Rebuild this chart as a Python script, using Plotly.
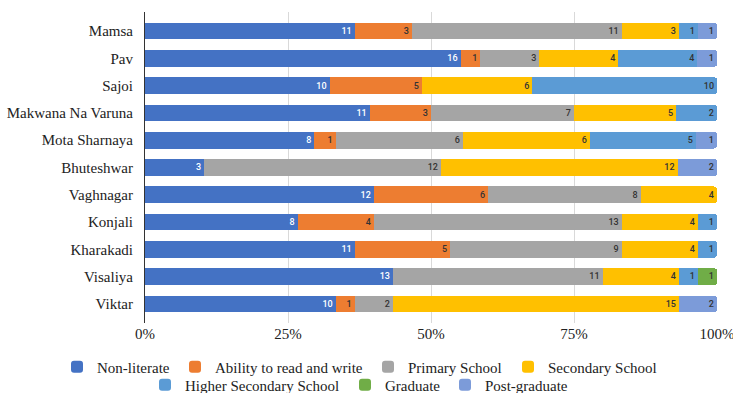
import plotly.graph_objects as go

villages = ["Mamsa", "Pav", "Sajoi", "Makwana Na Varuna", "Mota Sharnaya", "Bhuteshwar",
            "Vaghnagar", "Konjali", "Kharakadi", "Visaliya", "Viktar"]

non_literate = [11, 16, 10, 11, 8, 3, 12, 8, 11, 13, 10]
read_write = [3, 1, 5, 3, 1, 0, 6, 4, 5, 0, 1]
primary = [11, 3, 0, 7, 6, 12, 8, 13, 9, 11, 2]
secondary = [3, 4, 6, 5, 6, 12, 4, 4, 4, 4, 15]
higher_secondary = [1, 4, 10, 2, 5, 0, 0, 1, 1, 1, 0]
graduate = [0, 0, 0, 0, 0, 0, 0, 0, 0, 1, 0]
post_graduate = [1, 1, 0, 0, 1, 2, 0, 0, 0, 0, 2]

series_names = ["Non-literate", "Ability to read and write", "Primary School",
                "Secondary School", "Higher Secondary School", "Graduate", "Post-graduate"]
series_values = [non_literate, read_write, primary, secondary,
                 higher_secondary, graduate, post_graduate]
series_colors = ["#4472C4", "#ED7D31", "#A5A5A5", "#FFC000", "#5B9BD5", "#70AD47", "#7C9BD9"]
text_colors = ["white", "#333333", "#333333", "#333333", "#333333", "#333333", "#333333"]

# legend layout: (left x of legend text in px, row centre y in px)
legend_pos = [(97, 367), (215, 367), (408, 367), (548, 367),
              (185, 385), (385, 385), (485, 385)]

SERIF = "Liberation Serif, Times New Roman, Times, serif"
W, H = 733, 393

fig = go.Figure()
layout_legends = {}
for i, (name, vals, color, tcolor) in enumerate(zip(series_names, series_values,
                                                    series_colors, text_colors)):
    leg = "legend" if i == 0 else f"legend{i + 1}"
    fig.add_trace(go.Bar(
        y=villages, x=vals, name=name, orientation="h", legend=leg,
        showlegend=True,
        marker=dict(color=color, line=dict(width=0)),
        text=[str(v) if v else "" for v in vals],
        textposition="inside", insidetextanchor="end",
        textangle=0,
        textfont=dict(family="Roboto", size=11, color=tcolor, weight=500),
        hoverinfo="skip",
    ))
    tx, ty = legend_pos[i]
    layout_legends[leg] = dict(
        orientation="h", xref="container", yref="container",
        x=(tx - 40) / W, xanchor="left", y=1 - ty / H, yanchor="middle",
        font=dict(family=SERIF, size=15, color="#222222"),
        itemclick=False, bgcolor="rgba(0,0,0,0)", borderwidth=0,
    )

fig.update_layout(
    showlegend=True,
    barmode="stack", barnorm="percent", bargap=0.39,
    width=W, height=H,
    margin=dict(l=145, r=16, t=12, b=70, autoexpand=False),
    plot_bgcolor="white", paper_bgcolor="white",
    font=dict(family=SERIF, size=15, color="#222222"),
    uniformtext=dict(minsize=8, mode="show"),
    barcornerradius=3,
    **layout_legends,
)
fig.update_xaxes(range=[0, 100], tickvals=[0, 25, 50, 75, 100],
                 ticktext=["0%", "25%", "50%", "75%", "100%"],
                 showgrid=True, gridcolor="#D9D9D9", gridwidth=1, zeroline=False,
                 ticks="", fixedrange=True, ticklabeloverflow="allow",
                 tickfont=dict(family=SERIF, size=15, color="#222222"))
fig.update_yaxes(range=[10.7, -0.7], showline=True, linecolor="#333333", linewidth=1,
                 ticks="", ticklabelstandoff=8, fixedrange=True,
                 tickfont=dict(family=SERIF, size=15, color="#222222"))

fig.write_html("out.html")
